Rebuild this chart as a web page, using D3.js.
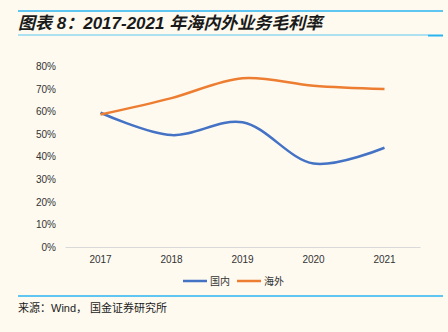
<!DOCTYPE html>
<html>
<head>
<meta charset="utf-8">
<script src="https://cdn.jsdelivr.net/npm/d3@7"></script>
<style>
  body { margin: 0; background: #fefaf0; }
  svg { display: block; }
</style>
</head>
<body>
<svg id="drawing_region"></svg>
<script>
const width = 448;
const height = 332;

// data
const years = ["2017", "2018", "2019", "2020", "2021"];
const domestic = [59.5, 49.6, 55.3, 37.0, 44.0];   // 国内
const overseas = [58.7, 66.0, 74.8, 71.5, 70.0];   // 海外
const yTicks = [0, 10, 20, 30, 40, 50, 60, 70, 80];

const titleText = "图表 8：2017-2021 年海内外业务毛利率";
const sourceText = "来源：Wind， 国金证券研究所";

const svg = d3.select('#drawing_region')
    .attr('width', width)
    .attr('height', height);

svg.append("rect")
    .attr("width", width)
    .attr("height", height)
    .attr("fill", "#fefaf0");

// header lines
svg.append("line")
    .attr("x1", 18).attr("x2", 443)
    .attr("y1", 11).attr("y2", 11)
    .attr("stroke", "#29b4f0").attr("stroke-width", 1.5);
svg.append("line")
    .attr("x1", 18).attr("x2", 428)
    .attr("y1", 35).attr("y2", 35)
    .attr("stroke", "#5cc6f2").attr("stroke-width", 1);
svg.append("line")
    .attr("x1", 428).attr("x2", 443)
    .attr("y1", 35.5).attr("y2", 35.5)
    .attr("stroke", "#29b4f0").attr("stroke-width", 2);

svg.append("text")
    .attr("x", 18)
    .attr("y", 29)
    .attr("font-family", "Liberation Sans, Noto Sans CJK SC")
    .attr("font-size", "17px")
    .attr("font-weight", "bold")
    .attr("font-style", "italic")
    .attr("fill", "#1a1a1a")
    .text(titleText);

// plot area
const x = d3.scaleBand()
    .domain(years)
    .range([65, 420]);

const y = d3.scaleLinear()
    .domain([0, 80])
    .range([247, 66.5]);

svg.append("g")
    .attr("transform", "translate(0,247)")
    .call(d3.axisBottom(x).tickSize(0).tickPadding(9))
    .call(g => g.select(".domain").attr("stroke", "#d9d9d9"))
    .call(g => g.selectAll("text")
        .attr("font-family", "Liberation Sans, Arial")
        .attr("font-size", "10px")
        .attr("fill", "#333"));

svg.append("g")
    .attr("transform", "translate(65,0)")
    .call(d3.axisLeft(y).tickValues(yTicks).tickSize(0).tickPadding(9)
        .tickFormat(d => d + "%"))
    .call(g => g.select(".domain").remove())
    .call(g => g.selectAll("text")
        .attr("font-family", "Liberation Sans, Arial")
        .attr("font-size", "10px")
        .attr("fill", "#333"));

const line = d3.line()
    .x((d, i) => x(years[i]) + x.bandwidth() / 2)
    .y(d => y(d))
    .curve(d3.curveCatmullRom.alpha(0.5));

const series = [
    { name: "国内", values: domestic, color: "#4472c4" },
    { name: "海外", values: overseas, color: "#ed7d31" }
];

svg.selectAll("path.series")
    .data(series)
    .join("path")
    .attr("class", "series")
    .attr("d", d => line(d.values))
    .attr("fill", "none")
    .attr("stroke", d => d.color)
    .attr("stroke-width", 2.5);

// legend
const legend = svg.selectAll("g.legend")
    .data(series)
    .join("g")
    .attr("class", "legend")
    .attr("transform", (d, i) => `translate(${183 + i * 54},281)`);

legend.append("line")
    .attr("x1", 0).attr("x2", 24)
    .attr("stroke", d => d.color)
    .attr("stroke-width", 2.5);

legend.append("text")
    .attr("x", 27)
    .attr("y", 4)
    .attr("font-family", "Noto Sans CJK SC")
    .attr("font-size", "10px")
    .attr("fill", "#333")
    .text(d => d.name);

// footer
svg.append("line")
    .attr("x1", 18).attr("x2", 443)
    .attr("y1", 296).attr("y2", 296)
    .attr("stroke", "#29b4f0").attr("stroke-width", 1.5);

svg.append("text")
    .attr("x", 18)
    .attr("y", 312)
    .attr("font-family", "Liberation Sans, Noto Sans CJK SC")
    .attr("font-size", "11px")
    .attr("fill", "#1a1a1a")
    .text(sourceText);
</script>
</body>
</html>
